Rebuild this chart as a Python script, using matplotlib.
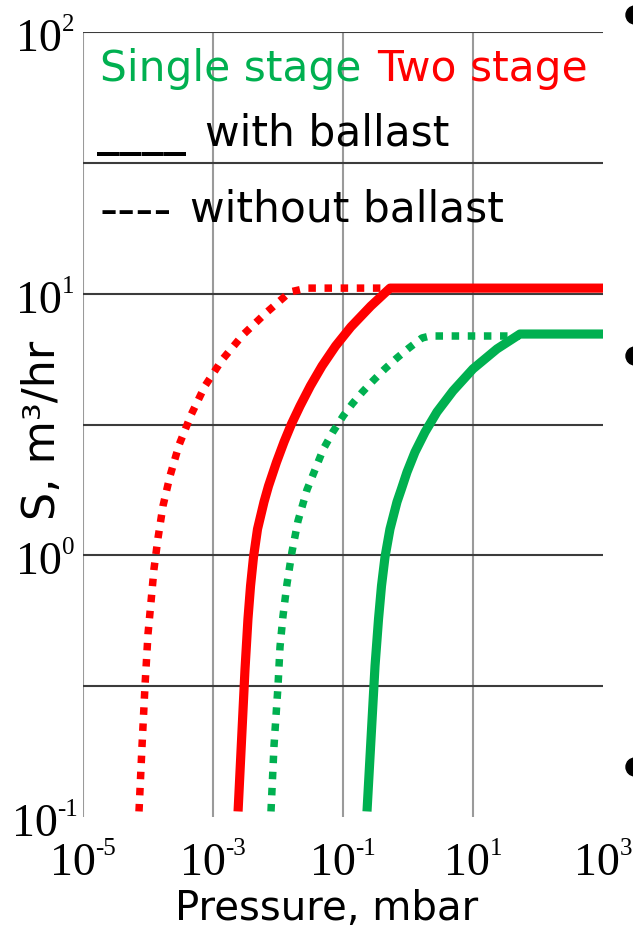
import matplotlib
matplotlib.use("Agg")
import matplotlib.pyplot as plt
from matplotlib.patches import Ellipse

# ---- data: pumping speed S (m^3/hr) versus inlet pressure (mbar) ----
two_noballast_p = [7.27e-5, 8.09e-5, 8.99e-5, 1.0e-4, 1.112e-4, 1.236e-4, 1.425e-4,
                   1.701e-4, 2.18e-4, 3.0e-4, 4.59e-4, 7.53e-4, 1.375e-3, 2.89e-3,
                   6.53e-3, 1.53e-2, 2.79e-2, 0.528]
two_noballast_s = [0.105, 0.187, 0.317, 0.501, 0.664, 0.887, 1.164,
                   1.545, 2.01, 2.64, 3.44, 4.44, 5.58, 6.96,
                   8.44, 10.15, 10.5, 10.5]

two_ballast_p = [2.43e-3, 3.11e-3, 3.45e-3, 3.78e-3, 4.20e-3, 4.84e-3, 6.09e-3,
                 7.14e-3, 9.48e-3, 1.237e-2, 1.614e-2, 2.18e-2, 3.15e-2, 4.75e-2,
                 7.69e-2, 0.132, 0.268, 0.53, 1000.0]
two_ballast_s = [0.105, 0.368, 0.571, 0.764, 0.986, 1.26, 1.60,
                 1.84, 2.27, 2.71, 3.18, 3.72, 4.44, 5.29,
                 6.31, 7.46, 8.97, 10.5, 10.5]

single_noballast_p = [7.80e-3, 8.68e-3, 1.0e-2, 1.074e-2, 1.194e-2, 1.375e-2, 1.64e-2,
                      2.03e-2, 2.79e-2, 4.99e-2, 6.97e-2, 0.1007, 0.1385, 0.199,
                      0.288, 0.441, 0.676, 1.035, 1.64, 2.18, 52.8]
single_noballast_s = [0.105, 0.187, 0.317, 0.447, 0.587, 0.778, 1.03,
                      1.353, 1.78, 2.55, 2.96, 3.41, 3.79, 4.21,
                      4.64, 5.16, 5.68, 6.20, 6.77, 6.89, 6.89]

single_ballast_p = [0.234, 0.311, 0.352, 0.391, 0.443, 0.528, 0.677, 0.79,
                    0.965, 1.28, 1.83, 2.79, 4.92, 10.0, 23.4, 52.8, 1000.0]
single_ballast_s = [0.105, 0.378, 0.571, 0.764, 0.986, 1.26, 1.60, 1.79,
                    2.08, 2.48, 2.96, 3.53, 4.25, 5.16, 6.15, 7.01, 7.01]

x_tick_exponents = [-5, -3, -1, 1, 3]
y_tick_exponents = [2, 1, 0, -1]

GREEN = "#00B050"
RED = "#FF0000"

W, H = 633, 929
fig = plt.figure(figsize=(W / 100, H / 100), dpi=100, facecolor="white")


def fx(px):
    return px / W


def fy(py):
    # py measured from the top edge
    return 1 - py / H


ax = fig.add_axes([fx(83), fy(818), (603 - 83) / W, (818 - 33) / H])
ax.set_xscale("log")
ax.set_yscale("log")
ax.set_xlim(1e-5, 1e3)
ax.set_ylim(0.1, 100)
for sp in ax.spines.values():
    sp.set_visible(False)
ax.set_xticks([])
ax.set_yticks([])
ax.minorticks_off()
ax.tick_params(which="both", length=0, labelbottom=False, labelleft=False)

# grid: vertical every two decades, horizontal every half decade
for xv in [1e-5, 1e-3, 1e-1, 1e1]:
    ax.axvline(xv, color="#9a9a9a", lw=1.5, zorder=1)
for yv in [10 ** -0.5, 1, 10 ** 0.5, 10, 10 ** 1.5, 100]:
    ax.axhline(yv, color="#3c3c3c", lw=1.5, zorder=1.5)

dot = (0, (1, 1.15))
ax.plot(two_noballast_p, two_noballast_s, color=RED, lw=5.4, ls=dot,
        dash_capstyle="butt", zorder=3)
ax.plot(single_noballast_p, single_noballast_s, color=GREEN, lw=5.4, ls=dot,
        dash_capstyle="butt", zorder=3)
ax.plot(two_ballast_p, two_ballast_s, color=RED, lw=6.6,
        solid_capstyle="butt", solid_joinstyle="round", zorder=4)
ax.plot(single_ballast_p, single_ballast_s, color=GREEN, lw=6.6,
        solid_capstyle="butt", solid_joinstyle="round", zorder=4)

# ---- power-of-ten tick labels (Times-like serif) ----
fig.canvas.draw()
renderer = fig.canvas.get_renderer()
SERIF = "Liberation Serif"


def power_label(cx_disp, base_disp_y, exp):
    base = fig.text(0, 0, "10", fontsize=33, family=SERIF, ha="left", va="baseline")
    sup = fig.text(0, 0, str(exp), fontsize=18, family=SERIF, ha="left", va="baseline")
    w1 = base.get_window_extent(renderer).width
    w2 = sup.get_window_extent(renderer).width
    left = cx_disp - (w1 + w2) / 2
    base.set_position((left / W, base_disp_y / H))
    sup.set_position(((left + w1) / W, (base_disp_y + 20) / H))


axis_bottom = H - 818
for e in x_tick_exponents:
    xd = ax.transData.transform((10.0 ** e, 1))[0]
    power_label(xd, axis_bottom - 57, e)

for e in y_tick_exponents:
    yd = ax.transData.transform((1, 10.0 ** e))[1]
    power_label(45, yd - 18, e)

# ---- axis titles ----
SANS = "DejaVu Sans"
fig.text(fx(327), fy(920), "Pressure, mbar", fontsize=29, family=SANS,
         ha="center", va="baseline")
fig.text(fx(43), fy(430), "S, m\u00b3/hr", fontsize=32, family=SANS,
         rotation=90, ha="center", va="center")

# ---- key written inside the plot ----
fig.text(fx(100), fy(81), "Single stage", fontsize=30.5, family=SANS, color=GREEN,
         va="baseline")
fig.text(fx(377), fy(81), "Two stage", fontsize=30.5, family=SANS, color=RED,
         va="baseline")
fig.text(fx(97), fy(145), "____", fontsize=32, family=SANS, fontweight="bold",
         va="baseline")
fig.text(fx(205), fy(145), "with ballast", fontsize=30.5, family=SANS, va="baseline")
fig.text(fx(99), fy(226), "----", fontsize=36, family=SANS, va="baseline")
fig.text(fx(190), fy(222), "without ballast", fontsize=30.5, family=SANS,
         va="baseline")

# bullets of the neighbouring slide text, cut by the right edge
for by in [16, 357, 768]:
    fig.add_artist(Ellipse((fx(635), fy(by)), 18 / W, 18 / H,
                           transform=fig.transFigure, color="black"))

fig.savefig("out.png", dpi=100, facecolor="white")
